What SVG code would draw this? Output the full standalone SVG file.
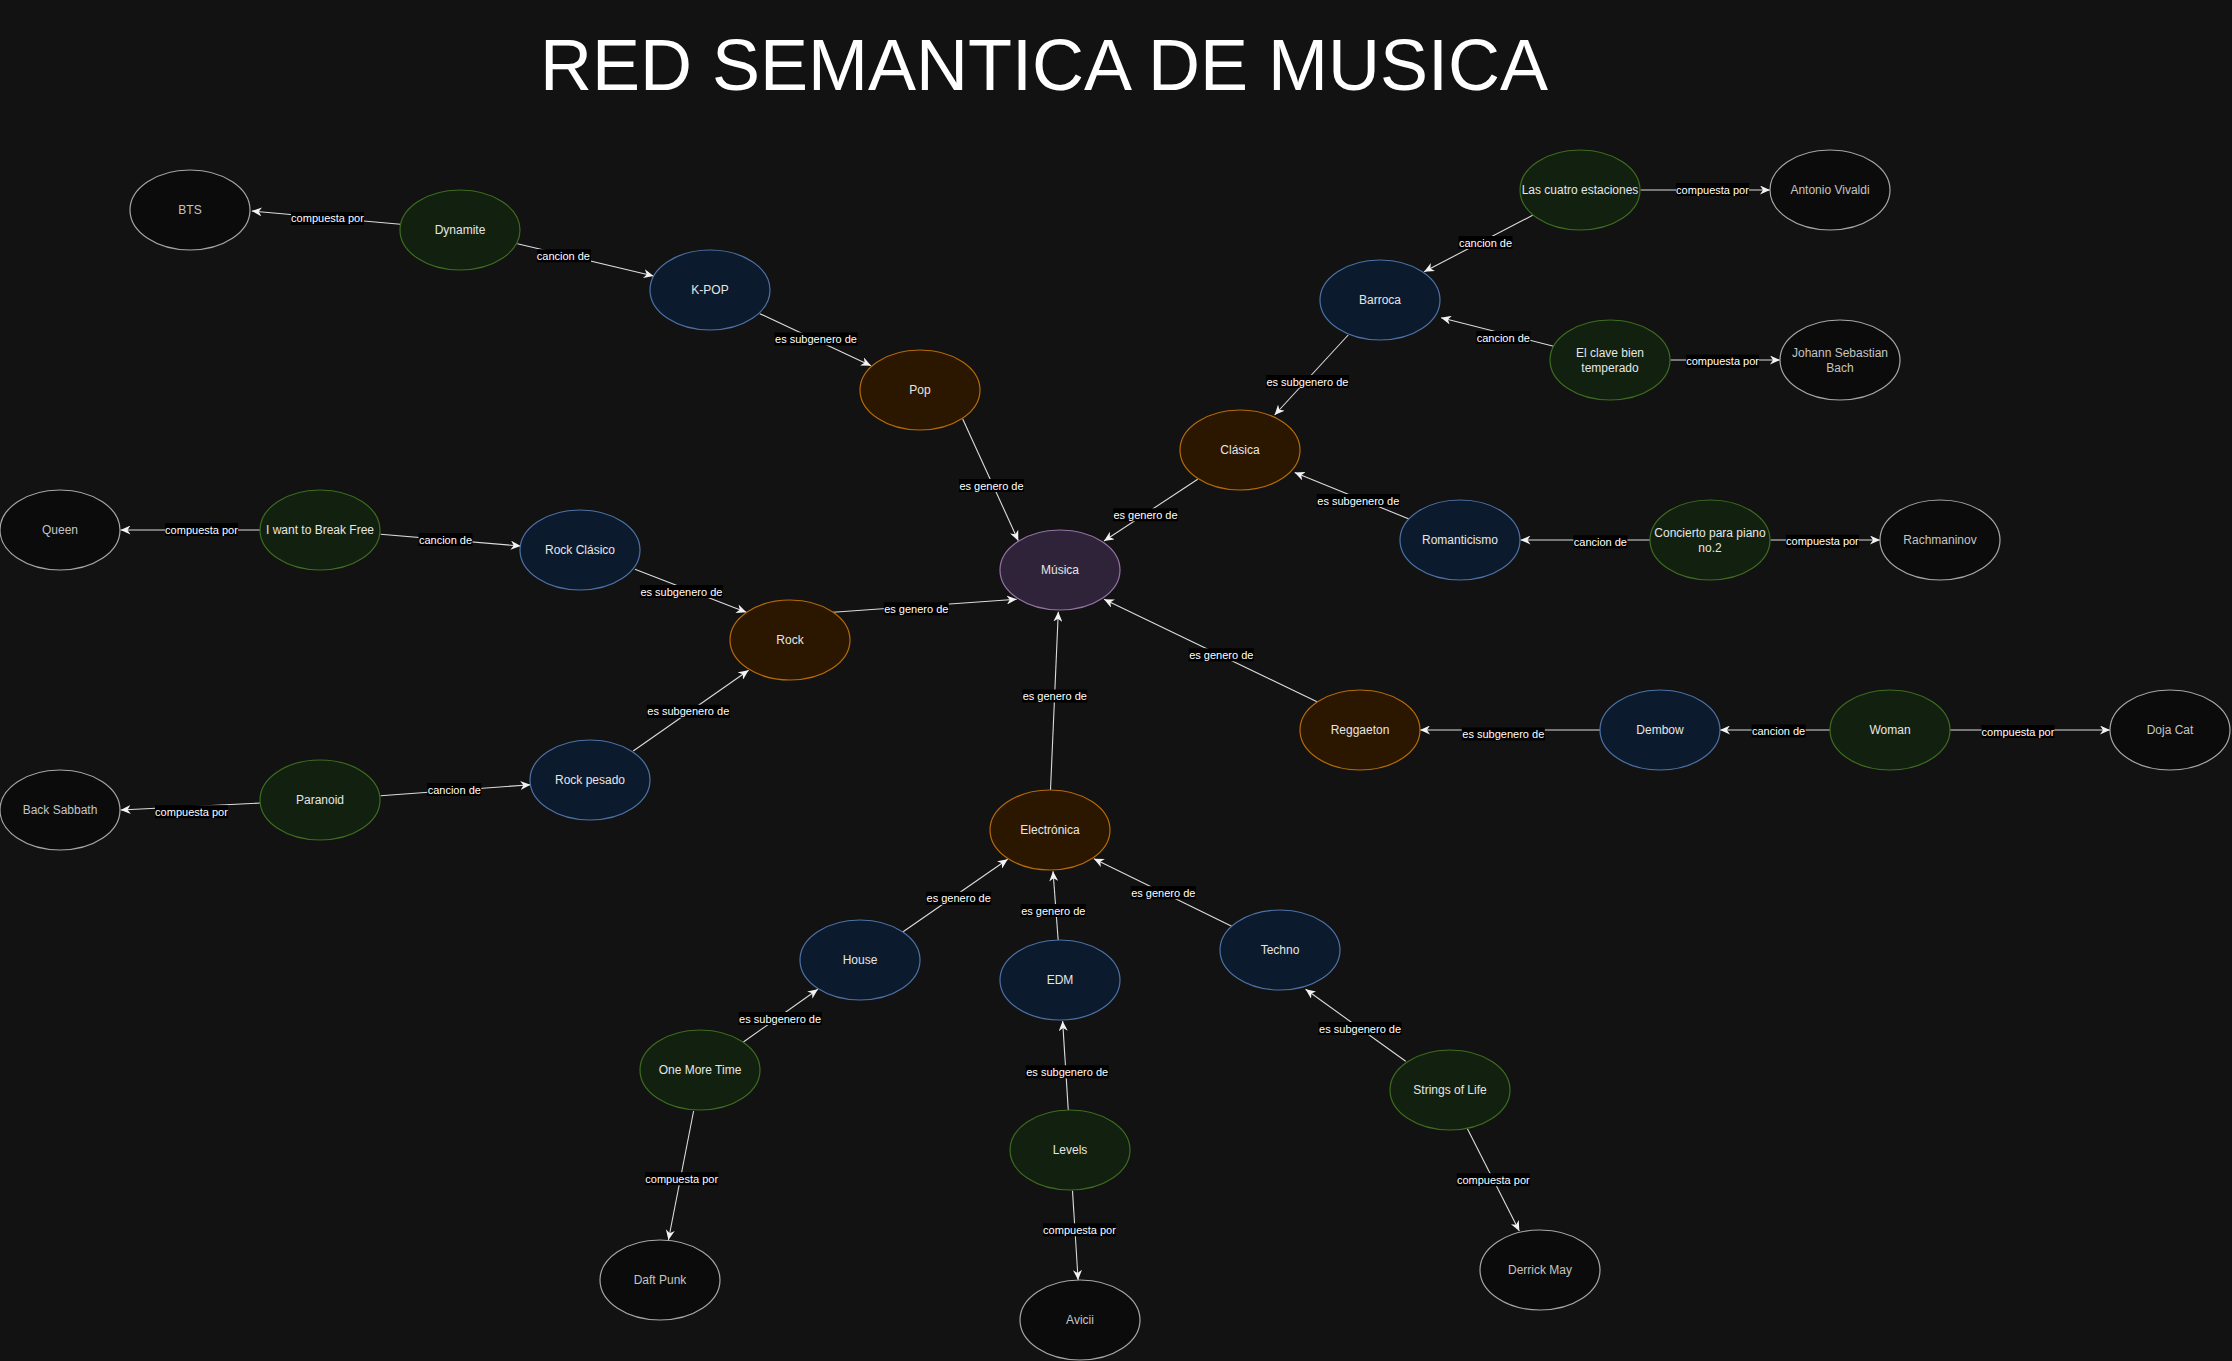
<svg xmlns="http://www.w3.org/2000/svg" width="2232" height="1361" viewBox="0 0 2232 1361">
<defs>
<marker id="arr" markerUnits="userSpaceOnUse" markerWidth="11" markerHeight="9" refX="10" refY="4.5" orient="auto" viewBox="0 0 11 9">
<path d="M0,0 L10,4.5 L0,9 L3,4.5 Z" fill="#f2f2f2"/>
</marker>
<style>
.bg{fill:#121212}
.n{stroke-width:1.2}
.blk{fill:#0b0b0b;stroke:#a6a6a6}
.grn{fill:#11200f;stroke:#3d6d1f}
.blu{fill:#0c1a2d;stroke:#4d72a6}
.org{fill:#2b1600;stroke:#b56b08}
.pur{fill:#2f2339;stroke:#9673a6}
.nt{font-family:"Liberation Sans",Arial,sans-serif;font-size:12px;fill:#e6e6e6;text-anchor:middle}
.nb{fill:#c4c4c4}
.e line{stroke:#dcdcdc;stroke-width:1.1;marker-end:url(#arr)}
.lb rect{fill:#000}
.lb text{font-family:"Liberation Sans",Arial,sans-serif;font-size:11px;fill:#ffffff;text-anchor:middle}
.title{font-family:"Liberation Sans",Arial,sans-serif;font-size:72px;fill:#ffffff;text-anchor:middle}
</style>
</defs>
<rect class="bg" x="0" y="0" width="2232" height="1361"/>
<text class="title" x="1044" y="90">RED SEMANTICA DE MUSICA</text>

<g id="connectors" class="e">
<line x1="400.4" y1="224.3" x2="251.8" y2="211"/>
<line x1="517.4" y1="243.7" x2="653.6" y2="276"/>
<line x1="759.8" y1="313.7" x2="871" y2="365.7"/>
<line x1="962.7" y1="419" x2="1018.3" y2="540.7"/>
<line x1="1197.7" y1="479.3" x2="1104" y2="541"/>
<line x1="833" y1="612.3" x2="1016.7" y2="599.3"/>
<line x1="1317" y1="701.7" x2="1104" y2="599.3"/>
<line x1="1050.5" y1="790" x2="1058.3" y2="611.7"/>
<line x1="1348.2" y1="335" x2="1274.6" y2="415"/>
<line x1="1532.6" y1="215.3" x2="1424.1" y2="271.7"/>
<line x1="1553.6" y1="346.3" x2="1441.1" y2="317.7"/>
<line x1="1640.6" y1="190" x2="1770" y2="190"/>
<line x1="1670.5" y1="360" x2="1780" y2="360"/>
<line x1="1409" y1="519" x2="1294.7" y2="472.5"/>
<line x1="1650.6" y1="540" x2="1520.5" y2="540"/>
<line x1="1770.6" y1="540" x2="1880" y2="540"/>
<line x1="1600" y1="730" x2="1420" y2="730"/>
<line x1="1830" y1="730" x2="1720" y2="730"/>
<line x1="1950" y1="730" x2="2110" y2="730"/>
<line x1="260.6" y1="530" x2="120.5" y2="530"/>
<line x1="380.6" y1="534.3" x2="520.7" y2="546"/>
<line x1="634.9" y1="569.3" x2="746.3" y2="612.3"/>
<line x1="633.2" y1="751" x2="748.6" y2="670.3"/>
<line x1="380.6" y1="795.7" x2="530.4" y2="784.7"/>
<line x1="260.6" y1="803" x2="120.6" y2="810"/>
<line x1="903.1" y1="931.7" x2="1007.7" y2="859.3"/>
<line x1="1058.2" y1="940.3" x2="1053" y2="871.3"/>
<line x1="1232.7" y1="926.7" x2="1093.9" y2="858.7"/>
<line x1="743.4" y1="1042" x2="817.9" y2="989.3"/>
<line x1="1068.3" y1="1110.3" x2="1062.6" y2="1021"/>
<line x1="1405.7" y1="1061.3" x2="1305.6" y2="989.3"/>
<line x1="693.6" y1="1111" x2="668.4" y2="1240"/>
<line x1="1072.5" y1="1190.7" x2="1078.1" y2="1280"/>
<line x1="1467.4" y1="1128.7" x2="1519.3" y2="1231"/>
</g>

<g id="edge-labels" class="lb">
<rect x="291" y="212" width="73" height="13"/><text x="327.5" y="222.3">compuesta por</text>
<rect x="537" y="249.2" width="54" height="13"/><text x="563.4" y="259.7">cancion de</text>
<rect x="774.5" y="332.5" width="83" height="13"/><text x="816" y="343">es subgenero de</text>
<rect x="959" y="479" width="65" height="13"/><text x="991.5" y="489.5">es genero de</text>
<rect x="1113" y="508.3" width="65" height="13"/><text x="1145.5" y="518.8">es genero de</text>
<rect x="883.8" y="602.3" width="65" height="13"/><text x="916.3" y="612.8">es genero de</text>
<rect x="1188.8" y="648.3" width="65" height="13"/><text x="1221.3" y="658.8">es genero de</text>
<rect x="1022.3" y="689.5" width="65" height="13"/><text x="1054.8" y="700">es genero de</text>
<rect x="1265.9" y="375" width="83" height="13"/><text x="1307.4" y="385.5">es subgenero de</text>
<rect x="1458.5" y="236" width="54" height="13"/><text x="1485.5" y="246.5">cancion de</text>
<rect x="1476.3" y="331" width="54" height="13"/><text x="1503.3" y="341.5">cancion de</text>
<rect x="1676" y="183" width="73" height="13"/><text x="1712.5" y="193.5">compuesta por</text>
<rect x="1686.1" y="354.7" width="73" height="13"/><text x="1722.6" y="365.2">compuesta por</text>
<rect x="1316.8" y="494" width="83" height="13"/><text x="1358.3" y="504.5">es subgenero de</text>
<rect x="1573.4" y="535.3" width="54" height="13"/><text x="1600.4" y="545.8">cancion de</text>
<rect x="1785.9" y="534.7" width="73" height="13"/><text x="1822.4" y="545.2">compuesta por</text>
<rect x="1461.8" y="727.5" width="83" height="13"/><text x="1503.3" y="738">es subgenero de</text>
<rect x="1751.6" y="724.5" width="54" height="13"/><text x="1778.6" y="735">cancion de</text>
<rect x="1981.5" y="725" width="73" height="13"/><text x="2018" y="735.5">compuesta por</text>
<rect x="165" y="523" width="73" height="13"/><text x="201.5" y="533.5">compuesta por</text>
<rect x="418.5" y="533" width="54" height="13"/><text x="445.5" y="543.5">cancion de</text>
<rect x="639.9" y="585" width="83" height="13"/><text x="681.4" y="595.5">es subgenero de</text>
<rect x="646.8" y="704.8" width="83" height="13"/><text x="688.3" y="715.3">es subgenero de</text>
<rect x="427.3" y="783" width="54" height="13"/><text x="454.3" y="793.5">cancion de</text>
<rect x="155" y="805.2" width="73" height="13"/><text x="191.5" y="815.7">compuesta por</text>
<rect x="926.2" y="891.8" width="65" height="13"/><text x="958.7" y="902.3">es genero de</text>
<rect x="1020.8" y="904" width="65" height="13"/><text x="1053.3" y="914.5">es genero de</text>
<rect x="1130.8" y="886.2" width="65" height="13"/><text x="1163.3" y="896.7">es genero de</text>
<rect x="738.6" y="1012" width="83" height="13"/><text x="780.1" y="1022.5">es subgenero de</text>
<rect x="1025.7" y="1065.3" width="83" height="13"/><text x="1067.2" y="1075.8">es subgenero de</text>
<rect x="1318.6" y="1022" width="83" height="13"/><text x="1360.1" y="1032.5">es subgenero de</text>
<rect x="645.2" y="1172.2" width="73" height="13"/><text x="681.7" y="1182.7">compuesta por</text>
<rect x="1043" y="1223.3" width="73" height="13"/><text x="1079.5" y="1233.8">compuesta por</text>
<rect x="1456.8" y="1173.2" width="73" height="13"/><text x="1493.3" y="1183.7">compuesta por</text>
</g>

<g id="nodes">
<g id="n-bts"><ellipse class="n blk" cx="190" cy="210" rx="60" ry="40"/><text class="nt nb" x="190" y="214">BTS</text></g>
<g id="n-dynamite"><ellipse class="n grn" cx="460" cy="230" rx="60" ry="40"/><text class="nt" x="460" y="234">Dynamite</text></g>
<g id="n-kpop"><ellipse class="n blu" cx="710" cy="290" rx="60" ry="40"/><text class="nt" x="710" y="294">K-POP</text></g>
<g id="n-pop"><ellipse class="n org" cx="920" cy="390" rx="60" ry="40"/><text class="nt" x="920" y="394">Pop</text></g>
<g id="n-musica"><ellipse class="n pur" cx="1060" cy="570" rx="60" ry="40"/><text class="nt" x="1060" y="574">Música</text></g>
<g id="n-clasica"><ellipse class="n org" cx="1240" cy="450" rx="60" ry="40"/><text class="nt" x="1240" y="454">Clásica</text></g>
<g id="n-barroca"><ellipse class="n blu" cx="1380" cy="300" rx="60" ry="40"/><text class="nt" x="1380" y="304">Barroca</text></g>
<g id="n-cuatro"><ellipse class="n grn" cx="1580" cy="190" rx="60" ry="40"/><text class="nt" x="1580" y="194">Las cuatro estaciones</text></g>
<g id="n-vivaldi"><ellipse class="n blk" cx="1830" cy="190" rx="60" ry="40"/><text class="nt nb" x="1830" y="194">Antonio Vivaldi</text></g>
<g id="n-clave"><ellipse class="n grn" cx="1610" cy="360" rx="60" ry="40"/><text class="nt" x="1610" y="356.5">El clave bien</text><text class="nt" x="1610" y="371.5">temperado</text></g>
<g id="n-bach"><ellipse class="n blk" cx="1840" cy="360" rx="60" ry="40"/><text class="nt nb" x="1840" y="356.5">Johann Sebastian</text><text class="nt nb" x="1840" y="371.5">Bach</text></g>
<g id="n-romanticismo"><ellipse class="n blu" cx="1460" cy="540" rx="60" ry="40"/><text class="nt" x="1460" y="544">Romanticismo</text></g>
<g id="n-concierto"><ellipse class="n grn" cx="1710" cy="540" rx="60" ry="40"/><text class="nt" x="1710" y="536.5">Concierto para piano</text><text class="nt" x="1710" y="551.5">no.2</text></g>
<g id="n-rachmaninov"><ellipse class="n blk" cx="1940" cy="540" rx="60" ry="40"/><text class="nt nb" x="1940" y="544">Rachmaninov</text></g>
<g id="n-reggaeton"><ellipse class="n org" cx="1360" cy="730" rx="60" ry="40"/><text class="nt" x="1360" y="734">Reggaeton</text></g>
<g id="n-dembow"><ellipse class="n blu" cx="1660" cy="730" rx="60" ry="40"/><text class="nt" x="1660" y="734">Dembow</text></g>
<g id="n-woman"><ellipse class="n grn" cx="1890" cy="730" rx="60" ry="40"/><text class="nt" x="1890" y="734">Woman</text></g>
<g id="n-doja"><ellipse class="n blk" cx="2170" cy="730" rx="60" ry="40"/><text class="nt nb" x="2170" y="734">Doja Cat</text></g>
<g id="n-queen"><ellipse class="n blk" cx="60" cy="530" rx="60" ry="40"/><text class="nt nb" x="60" y="534">Queen</text></g>
<g id="n-breakfree"><ellipse class="n grn" cx="320" cy="530" rx="60" ry="40"/><text class="nt" x="320" y="534">I want to Break Free</text></g>
<g id="n-rockclasico"><ellipse class="n blu" cx="580" cy="550" rx="60" ry="40"/><text class="nt" x="580" y="554">Rock Clásico</text></g>
<g id="n-rock"><ellipse class="n org" cx="790" cy="640" rx="60" ry="40"/><text class="nt" x="790" y="644">Rock</text></g>
<g id="n-rockpesado"><ellipse class="n blu" cx="590" cy="780" rx="60" ry="40"/><text class="nt" x="590" y="784">Rock pesado</text></g>
<g id="n-paranoid"><ellipse class="n grn" cx="320" cy="800" rx="60" ry="40"/><text class="nt" x="320" y="804">Paranoid</text></g>
<g id="n-sabbath"><ellipse class="n blk" cx="60" cy="810" rx="60" ry="40"/><text class="nt nb" x="60" y="814">Back Sabbath</text></g>
<g id="n-electronica"><ellipse class="n org" cx="1050" cy="830" rx="60" ry="40"/><text class="nt" x="1050" y="834">Electrónica</text></g>
<g id="n-house"><ellipse class="n blu" cx="860" cy="960" rx="60" ry="40"/><text class="nt" x="860" y="964">House</text></g>
<g id="n-edm"><ellipse class="n blu" cx="1060" cy="980" rx="60" ry="40"/><text class="nt" x="1060" y="984">EDM</text></g>
<g id="n-techno"><ellipse class="n blu" cx="1280" cy="950" rx="60" ry="40"/><text class="nt" x="1280" y="954">Techno</text></g>
<g id="n-onemore"><ellipse class="n grn" cx="700" cy="1070" rx="60" ry="40"/><text class="nt" x="700" y="1074">One More Time</text></g>
<g id="n-levels"><ellipse class="n grn" cx="1070" cy="1150" rx="60" ry="40"/><text class="nt" x="1070" y="1154">Levels</text></g>
<g id="n-strings"><ellipse class="n grn" cx="1450" cy="1090" rx="60" ry="40"/><text class="nt" x="1450" y="1094">Strings of Life</text></g>
<g id="n-daftpunk"><ellipse class="n blk" cx="660" cy="1280" rx="60" ry="40"/><text class="nt nb" x="660" y="1284">Daft Punk</text></g>
<g id="n-avicii"><ellipse class="n blk" cx="1080" cy="1320" rx="60" ry="40"/><text class="nt nb" x="1080" y="1324">Avicii</text></g>
<g id="n-derrick"><ellipse class="n blk" cx="1540" cy="1270" rx="60" ry="40"/><text class="nt nb" x="1540" y="1274">Derrick May</text></g>
</g>
</svg>
